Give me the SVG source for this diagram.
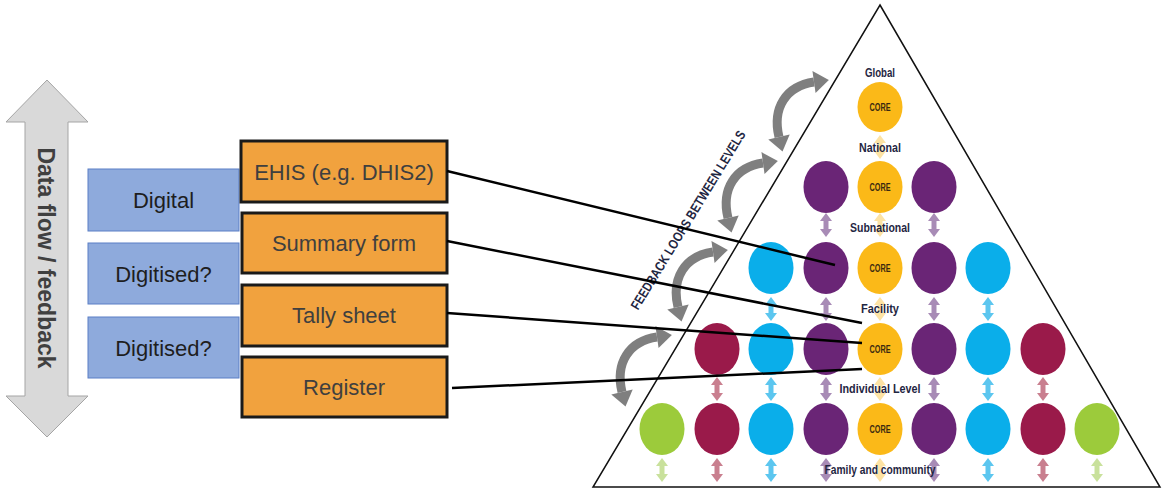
<svg xmlns="http://www.w3.org/2000/svg" xmlns:xlink="http://www.w3.org/1999/xlink" width="1164" height="491" viewBox="0 0 1164 491">
<style>
.blue{fill:#8eaadc;stroke:#5b7fc6;stroke-width:1}
.orange{fill:#f1a23e;stroke:#1a1a1a;stroke-width:3}
.bt{font-family:"Liberation Sans",Arial,sans-serif;font-size:22px;fill:#1e1e1e;text-anchor:middle}
.ot{font-family:"Liberation Sans",Arial,sans-serif;font-size:22px;fill:#3f3f3f;text-anchor:middle}
.lvl{font-family:"Liberation Sans",Arial,sans-serif;font-weight:bold;font-size:13px;fill:#1f2642;text-anchor:middle}
.core{font-family:"Liberation Sans",Arial,sans-serif;font-weight:bold;font-size:10.5px;fill:#3a2a10;text-anchor:middle}
.cy{fill:#0aaeea}.pu{fill:#6a2576}.cr{fill:#9a1a4a}.gr{fill:#9ccb3b}.ye{fill:#fbb918}
.acy{fill:#5cc6ef}.apu{fill:#a88bb6}.acr{fill:#c97f8f}.agr{fill:#c9e19c}.aye{fill:#fde3a4}
.conn{stroke:#000;stroke-width:2.5;fill:none}
.loop{stroke:#7f7f7f;stroke-width:9;fill:none;marker-start:url(#gh);marker-end:url(#gh)}
</style>
<defs>
<marker id="gh" viewBox="-1 -12 18 24" refX="0" refY="0" markerWidth="18" markerHeight="24" markerUnits="userSpaceOnUse" orient="auto-start-reverse">
<path d="M0,-11 L15,0 L0,11 Z" fill="#7f7f7f"/>
</marker>
<path id="da" d="M0,-12 L6,-4 L2.5,-4 L2.5,4 L6,4 L0,12 L-6,4 L-2.5,4 L-2.5,-4 L-6,-4 Z"/>
<path id="loopArc" d="M-49,59 C-56,30 -42,8 -14,4"/>
</defs>

<g id="dataflow-arrow">
<polygon points="47,80 88,122 68,122 68,396 88,396 47,437 6,396 25,396 25,122 6,122" fill="#d9d9d9" stroke="#a5a5a5" stroke-width="1"/>
<text transform="translate(46,258) rotate(90)" dy="0.35em" font-family="Liberation Sans,Arial,sans-serif" font-weight="bold" font-size="23" fill="#404040" text-anchor="middle">Data flow / feedback</text>
</g>

<g id="digital">
<rect class="blue" x="88" y="169" width="151" height="62"/>
<text class="bt" x="163.5" y="208">Digital</text>
</g>
<g id="digitised-1">
<rect class="blue" x="88" y="243" width="151" height="61"/>
<text class="bt" x="163.5" y="282">Digitised?</text>
</g>
<g id="digitised-2">
<rect class="blue" x="88" y="317" width="151" height="61"/>
<text class="bt" x="163.5" y="356">Digitised?</text>
</g>

<g id="ehis">
<rect class="orange" x="241" y="141" width="206" height="61"/>
<text class="ot" x="344" y="180">EHIS (e.g. DHIS2)</text>
</g>
<g id="summary-form">
<rect class="orange" x="242" y="213" width="205" height="60"/>
<text class="ot" x="344" y="251">Summary form</text>
</g>
<g id="tally-sheet">
<rect class="orange" x="242" y="285" width="205" height="61"/>
<text class="ot" x="344" y="323">Tally sheet</text>
</g>
<g id="register">
<rect class="orange" x="242" y="357" width="205" height="60"/>
<text class="ot" x="344" y="395">Register</text>
</g>

<g id="pyramid">
<polygon points="880,5 1160,487 593,487" fill="#fff" stroke="#111" stroke-width="1.5"/>

<g id="level-arrows">
<use href="#da" x="880" y="147" class="aye"/>
<use href="#da" x="826" y="225" class="apu"/><use href="#da" x="880" y="225" class="aye"/><use href="#da" x="934" y="225" class="apu"/>
<use href="#da" x="771" y="309" class="acy"/><use href="#da" x="826" y="309" class="apu"/><use href="#da" x="880" y="309" class="aye"/><use href="#da" x="934" y="309" class="apu"/><use href="#da" x="988" y="309" class="acy"/>
<use href="#da" x="717" y="389" class="acr"/><use href="#da" x="771" y="389" class="acy"/><use href="#da" x="826" y="389" class="apu"/><use href="#da" x="880" y="389" class="aye"/><use href="#da" x="934" y="389" class="apu"/><use href="#da" x="988" y="389" class="acy"/><use href="#da" x="1043" y="389" class="acr"/>
<use href="#da" x="662" y="470" class="agr"/><use href="#da" x="717" y="470" class="acr"/><use href="#da" x="771" y="470" class="acy"/><use href="#da" x="826" y="470" class="apu"/><use href="#da" x="880" y="470" class="aye"/><use href="#da" x="934" y="470" class="apu"/><use href="#da" x="988" y="470" class="acy"/><use href="#da" x="1043" y="470" class="acr"/><use href="#da" x="1097" y="470" class="agr"/>
</g>

<g id="row-global">
<ellipse class="ye" cx="880" cy="107" rx="22.5" ry="25"/>
<text class="core" x="880" y="111" textLength="21" lengthAdjust="spacingAndGlyphs">CORE</text>
</g>
<g id="row-national">
<ellipse class="pu" cx="826" cy="187" rx="22.5" ry="26"/>
<ellipse class="ye" cx="880" cy="187" rx="22.5" ry="26"/>
<ellipse class="pu" cx="934" cy="187" rx="22.5" ry="26"/>
<text class="core" x="880" y="191" textLength="21" lengthAdjust="spacingAndGlyphs">CORE</text>
</g>
<g id="row-subnational">
<ellipse class="cy" cx="771" cy="268" rx="22.5" ry="26"/>
<ellipse class="pu" cx="826" cy="268" rx="22.5" ry="26"/>
<ellipse class="ye" cx="880" cy="268" rx="22.5" ry="26"/>
<ellipse class="pu" cx="934" cy="268" rx="22.5" ry="26"/>
<ellipse class="cy" cx="988" cy="268" rx="22.5" ry="26"/>
<text class="core" x="880" y="272" textLength="21" lengthAdjust="spacingAndGlyphs">CORE</text>
</g>
<g id="row-facility">
<ellipse class="cr" cx="717" cy="349" rx="22.5" ry="26"/>
<ellipse class="cy" cx="771" cy="349" rx="22.5" ry="26"/>
<ellipse class="pu" cx="826" cy="349" rx="22.5" ry="26"/>
<ellipse class="ye" cx="880" cy="349" rx="22.5" ry="26"/>
<ellipse class="pu" cx="934" cy="349" rx="22.5" ry="26"/>
<ellipse class="cy" cx="988" cy="349" rx="22.5" ry="26"/>
<ellipse class="cr" cx="1043" cy="349" rx="22.5" ry="26"/>
<text class="core" x="880" y="353" textLength="21" lengthAdjust="spacingAndGlyphs">CORE</text>
</g>
<g id="row-family">
<ellipse class="gr" cx="662" cy="429" rx="22.5" ry="26"/>
<ellipse class="cr" cx="717" cy="429" rx="22.5" ry="26"/>
<ellipse class="cy" cx="771" cy="429" rx="22.5" ry="26"/>
<ellipse class="pu" cx="826" cy="429" rx="22.5" ry="26"/>
<ellipse class="ye" cx="880" cy="429" rx="22.5" ry="26"/>
<ellipse class="pu" cx="934" cy="429" rx="22.5" ry="26"/>
<ellipse class="cy" cx="988" cy="429" rx="22.5" ry="26"/>
<ellipse class="cr" cx="1043" cy="429" rx="22.5" ry="26"/>
<ellipse class="gr" cx="1097" cy="429" rx="22.5" ry="26"/>
<text class="core" x="880" y="433" textLength="21" lengthAdjust="spacingAndGlyphs">CORE</text>
</g>

<g id="level-labels">
<text class="lvl" x="880" y="77" textLength="30" lengthAdjust="spacingAndGlyphs">Global</text>
<text class="lvl" x="880" y="152" textLength="42" lengthAdjust="spacingAndGlyphs">National</text>
<text class="lvl" x="880" y="232" textLength="60" lengthAdjust="spacingAndGlyphs">Subnational</text>
<text class="lvl" x="880" y="313" textLength="38" lengthAdjust="spacingAndGlyphs">Facility</text>
<text class="lvl" x="880" y="393" textLength="81" lengthAdjust="spacingAndGlyphs">Individual Level</text>
<text class="lvl" x="880" y="474" textLength="111" lengthAdjust="spacingAndGlyphs">Family and community</text>
</g>
</g>

<g id="feedback-loops">
<text transform="translate(688,220) rotate(-58.6)" dy="0.35em" font-family="Liberation Sans,Arial,sans-serif" font-weight="bold" font-size="13.5" fill="#1f2642" text-anchor="middle" textLength="207" lengthAdjust="spacingAndGlyphs">FEEDBACK LOOPS BETWEEN LEVELS</text>
<use href="#loopArc" class="loop" x="828" y="78"/>
<use href="#loopArc" class="loop" x="777" y="159"/>
<use href="#loopArc" class="loop" x="727" y="248"/>
<use href="#loopArc" class="loop" x="671" y="333"/>
</g>

<g id="connectors">
<line class="conn" x1="447" y1="171" x2="835" y2="265"/>
<line class="conn" x1="447" y1="241" x2="862" y2="323"/>
<line class="conn" x1="447" y1="313" x2="862" y2="343"/>
<line class="conn" x1="452" y1="388" x2="862" y2="369"/>
</g>
</svg>
